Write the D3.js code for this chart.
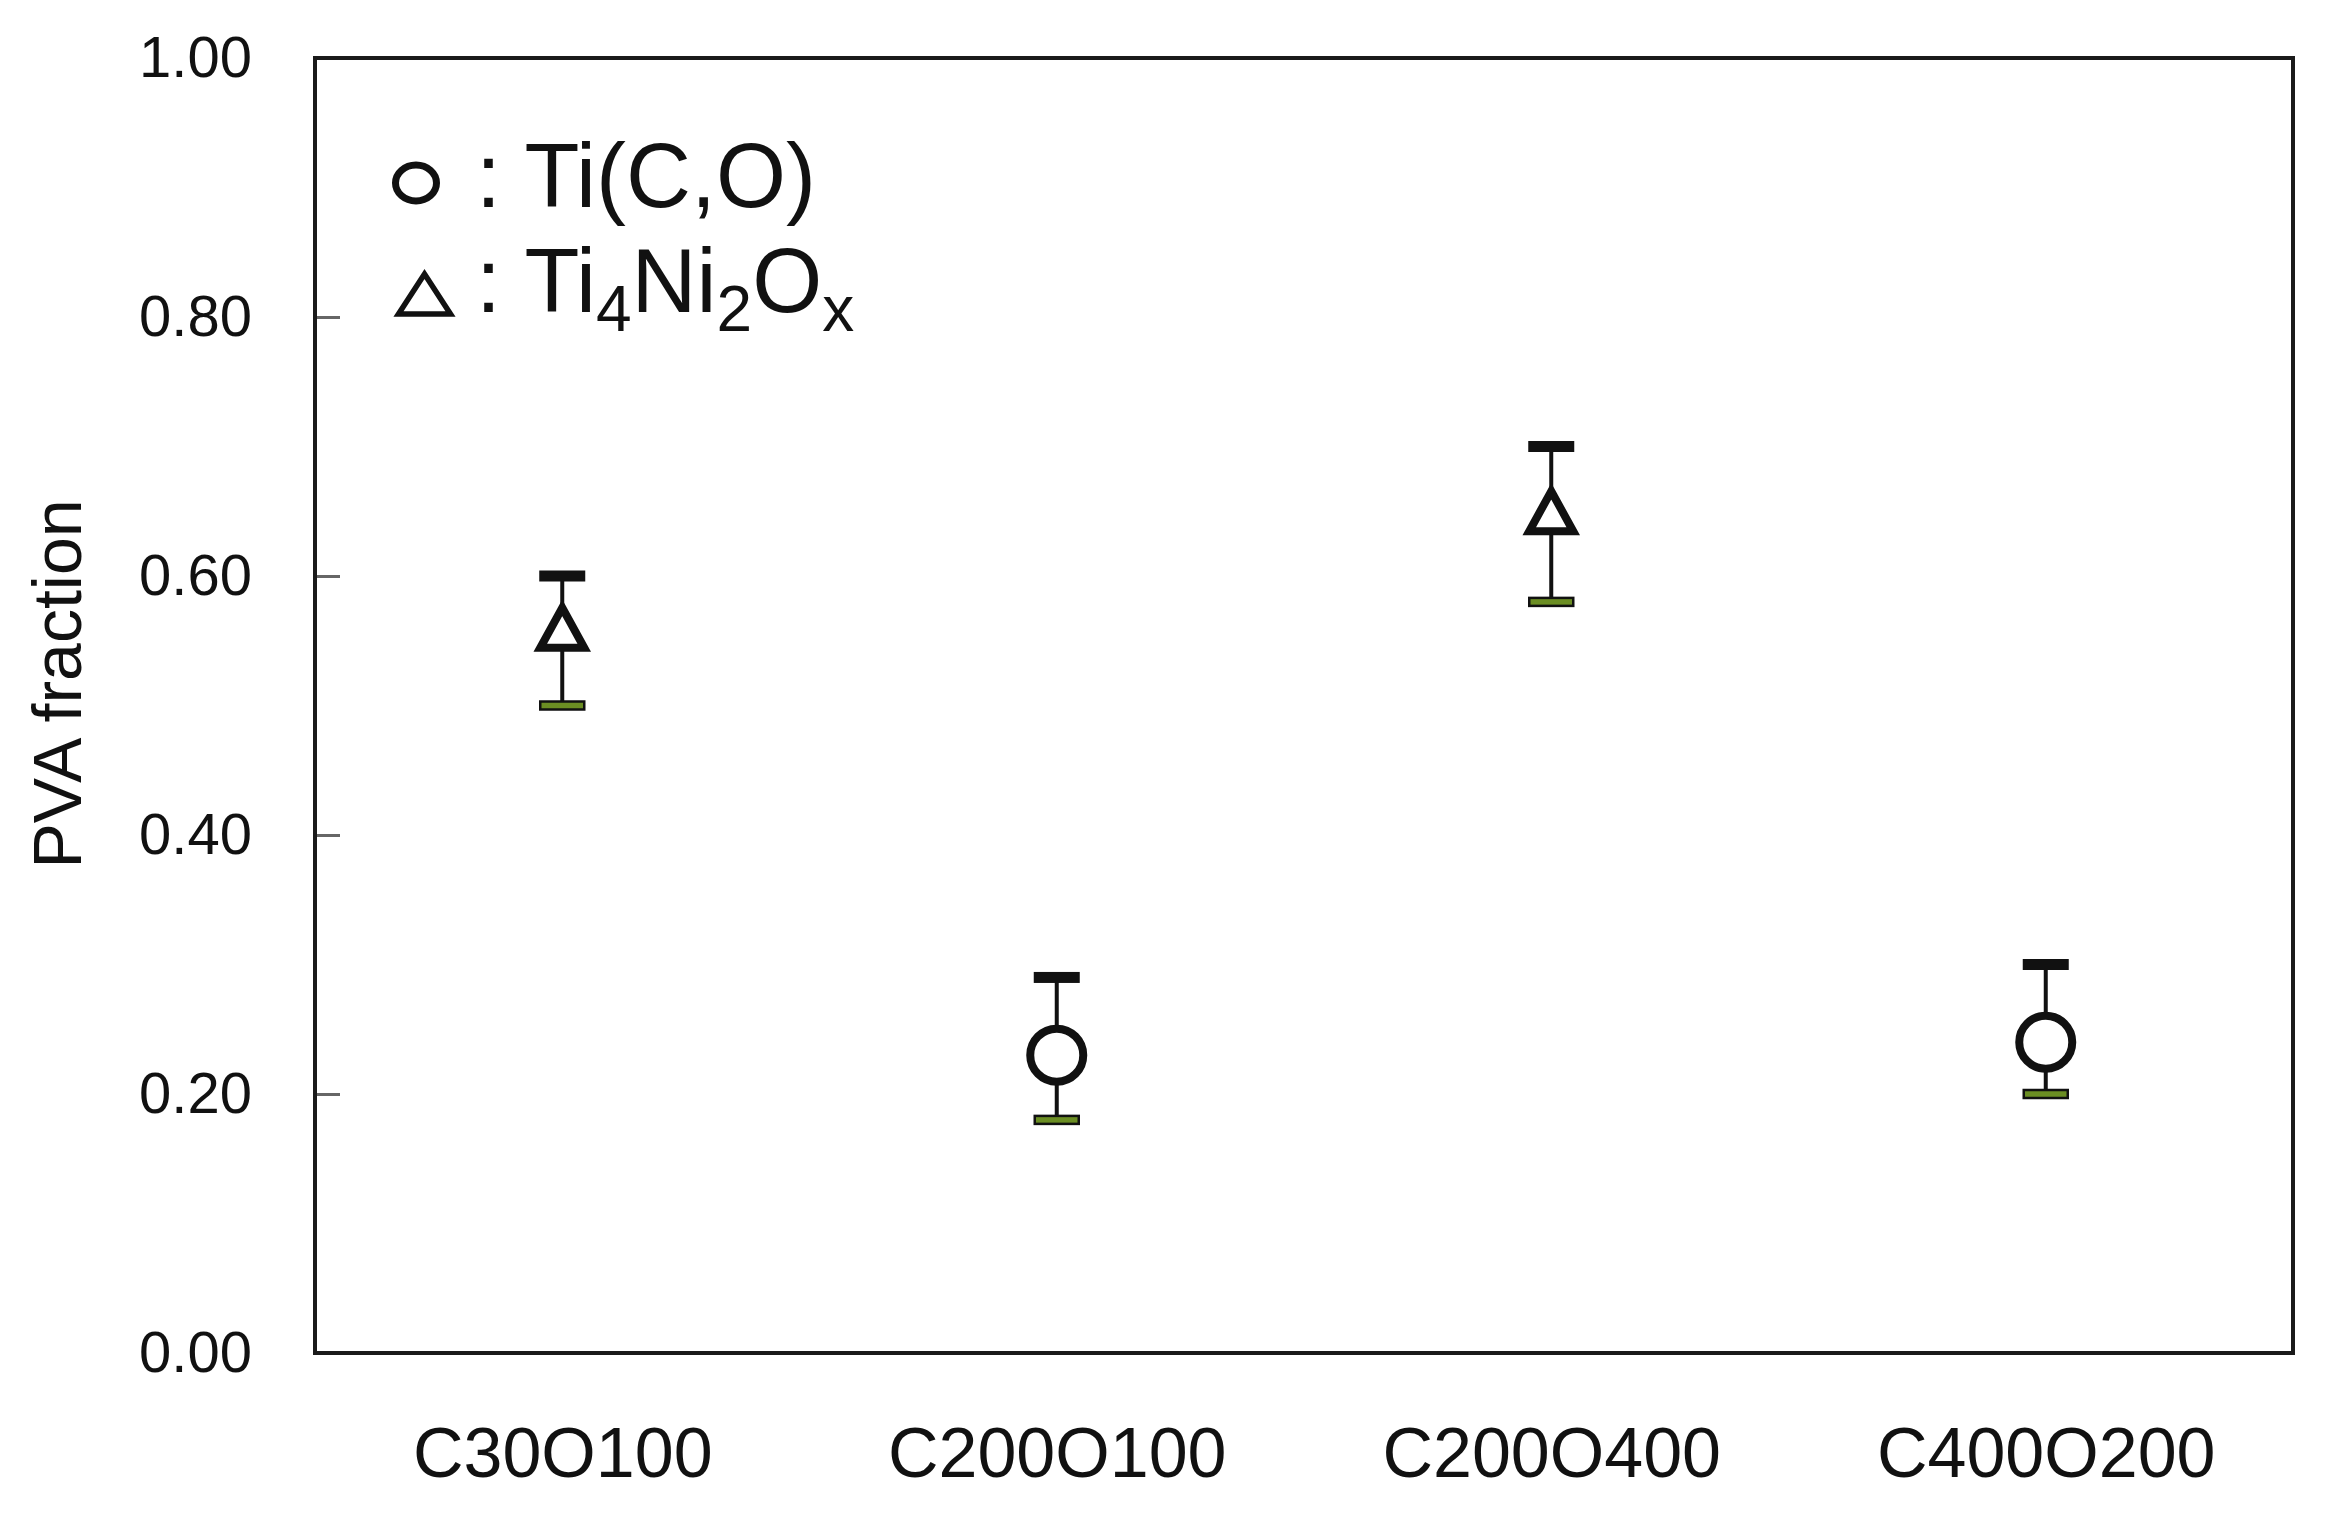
<!DOCTYPE html>
<html>
<head>
<meta charset="utf-8">
<script src="https://cdn.jsdelivr.net/npm/d3@7"></script>
<style>
  html, body { margin: 0; padding: 0; background: #fff; }
  svg { display: block; font-family: "Liberation Sans", Arial, sans-serif; }
</style>
</head>
<body>
<svg id="chart" width="2334" height="1518"></svg>
<script>
// ---- data ----
const categories = ["C30O100", "C200O100", "C200O400", "C400O200"];
const phases = ["Ti4Ni2Ox", "Ti(C,O)", "Ti4Ni2Ox", "Ti(C,O)"];
const values = [0.56, 0.23, 0.65, 0.24];
const upper = [0.60, 0.29, 0.70, 0.30];
const lower = [0.50, 0.18, 0.58, 0.20];
const yTicks = [0.0, 0.2, 0.4, 0.6, 0.8, 1.0];
const yLabel = "PVA fraction";

// ---- layout ----
const L = 315, R = 2293, T = 58, B = 1353;
const svg = d3.select("#chart");

const x = d3.scalePoint().domain(categories).range([L, R]).padding(0.5);
const y = d3.scaleLinear().domain([0, 1]).range([B, T]);

// left axis (inward ticks)
const yAxis = d3.axisLeft(y).tickValues(yTicks).tickFormat(d3.format(".2f"))
  .tickSizeInner(-25).tickSizeOuter(0).tickPadding(63);
const gy = svg.append("g").attr("transform", `translate(${L},0)`).call(yAxis);
gy.select(".domain").remove();
gy.selectAll(".tick line").attr("stroke", "#666").attr("stroke-width", 3);
gy.selectAll(".tick text").attr("font-size", 58).attr("fill", "#111")
  .attr("font-family", "'Liberation Sans', Arial, sans-serif");

// bottom axis (labels only)
const xAxis = d3.axisBottom(x).tickSize(0).tickPadding(74);
const gx = svg.append("g").attr("transform", `translate(0,${B})`).call(xAxis);
gx.select(".domain").remove();
gx.selectAll(".tick text").attr("font-size", 70).attr("fill", "#111")
  .attr("font-family", "'Liberation Sans', Arial, sans-serif");

// frame
svg.append("rect").attr("x", L).attr("y", T).attr("width", R - L).attr("height", B - T)
  .attr("fill", "none").attr("stroke", "#1a1a1a").attr("stroke-width", 4);

// y title
svg.append("text").attr("transform", `translate(81,684) rotate(-90)`)
  .attr("text-anchor", "middle").attr("font-size", 68).attr("fill", "#111")
  .text(yLabel);

// ---- data marks ----
const data = categories.map((c, i) => ({ c, phase: phases[i], v: values[i], hi: upper[i], lo: lower[i] }));

const g = svg.append("g");
const capW = 46;
g.selectAll("line.err").data(data).join("line").attr("class", "err")
  .attr("x1", d => x(d.c)).attr("x2", d => x(d.c))
  .attr("y1", d => y(d.hi)).attr("y2", d => y(d.lo))
  .attr("stroke", "#111").attr("stroke-width", 4);
g.selectAll("rect.capTop").data(data).join("rect").attr("class", "capTop")
  .attr("x", d => x(d.c) - capW / 2).attr("y", d => y(d.hi) - 5.5)
  .attr("width", capW).attr("height", 11).attr("fill", "#111");
g.selectAll("rect.capBot").data(data).join("rect").attr("class", "capBot")
  .attr("x", d => x(d.c) - capW / 2 + 1).attr("y", d => y(d.lo) - 4)
  .attr("width", capW - 2).attr("height", 8)
  .attr("fill", "#6b8e23").attr("stroke", "#111").attr("stroke-width", 2.5);

const triPath = (hw, h) => `M0,${-h / 2}L${hw},${h / 2}L${-hw},${h / 2}Z`;
g.selectAll("path.tri").data(data.filter(d => d.phase === "Ti4Ni2Ox")).join("path").attr("class", "tri")
  .attr("transform", d => `translate(${x(d.c)},${y(d.v)})`)
  .attr("d", triPath(22, 40))
  .attr("fill", "#fff").attr("stroke", "#111").attr("stroke-width", 8).attr("stroke-linejoin", "miter");
g.selectAll("circle.circ").data(data.filter(d => d.phase === "Ti(C,O)")).join("circle").attr("class", "circ")
  .attr("cx", d => x(d.c)).attr("cy", d => y(d.v)).attr("r", 26.5)
  .attr("fill", "#fff").attr("stroke", "#111").attr("stroke-width", 8);

// ---- legend ----
const lg = svg.append("g");
lg.append("ellipse").attr("cx", 416).attr("cy", 183).attr("rx", 20, 5).attr("rx", 20.5).attr("ry", 18)
  .attr("fill", "none").attr("stroke", "#111").attr("stroke-width", 7);
lg.append("path").attr("transform", "translate(424.5,294)").attr("d", triPath(26, 40))
  .attr("fill", "none").attr("stroke", "#111").attr("stroke-width", 5.5);

lg.append("text").attr("x", 476).attr("y", 207).attr("font-size", 90).attr("fill", "#111")
  .text(": Ti(C,O)");
const t2 = lg.append("text").attr("x", 476).attr("y", 312).attr("font-size", 90).attr("fill", "#111");
const parts = [[": Ti", false], ["4", true], ["Ni", false], ["2", true], ["O", false], ["x", true]];
let sub = false;
parts.forEach(([s, isSub]) => {
  const ts = t2.append("tspan").text(s);
  if (isSub) { ts.attr("font-size", 64).attr("dy", sub ? 0 : 19); }
  else { ts.attr("dy", sub ? -19 : 0); }
  sub = isSub;
});
</script>
</body>
</html>
